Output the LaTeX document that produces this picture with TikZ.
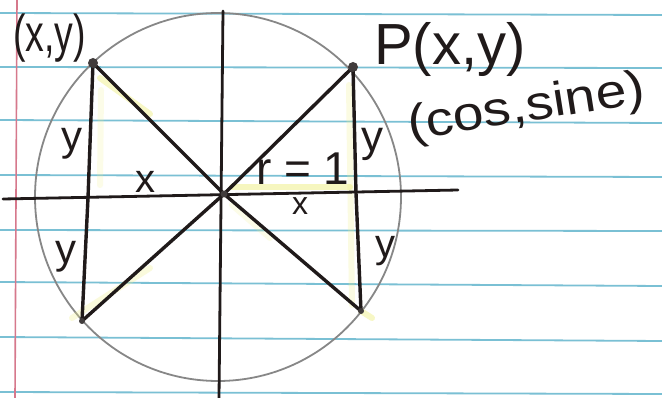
\documentclass[tikz,border=0pt]{standalone}
\usepackage{fontspec}
\setmainfont{Liberation Sans}
\definecolor{nbblue}{RGB}{122,192,212}
\definecolor{nbred}{RGB}{214,120,140}
\definecolor{circgray}{RGB}{135,135,135}
\definecolor{ink}{RGB}{32,26,26}
\definecolor{hl}{RGB}{240,240,140}
\begin{document}
\begin{tikzpicture}[x=1pt,y=-1pt,
  ruled/.style={nbblue,line width=1.8pt},
  margin/.style={nbred,line width=1.6pt},
  axis/.style={ink,line width=2.8pt,line cap=round},
  leg/.style={ink,line width=3.4pt,line cap=round,line join=round},
  hilite/.style={hl,line width=6pt,opacity=0.4,line cap=round},
  lbl/.style={ink,inner sep=0pt,anchor=base},
  dot/.style={circle,fill=ink!85,inner sep=0pt,minimum size=#1}]
\useasboundingbox[fill=white] (0,0) rectangle (662,398);
% notebook lines
\foreach \i/\yl/\yr in {1/13/15,2/67/68,3/120/123,4/175/177,5/230/231,6/282/286,7/337/341,8/392/394}{
  \coordinate (L\i) at (0,\yl);
  \coordinate (R\i) at (662,\yr);
  \draw[ruled] (L\i) -- (R\i);
}
\coordinate (mt) at (17,0);
\coordinate (mb) at (15,398);
\draw[margin] (mt) -- (mb);
% circle
\coordinate (ctr) at (218,197);
\draw[circgray,line width=1.8pt] (ctr) ellipse [x radius=183, y radius=184];
% key points
\coordinate (O) at (224,194);
\coordinate (A) at (93,63);
\coordinate (B) at (353,67);
\coordinate (C) at (82,321);
\coordinate (D) at (361,311);
\coordinate (AF) at (88,198);
\coordinate (BF) at (356,193);
% highlights
\coordinate (h1) at (100,78);
\coordinate (h2) at (150,114);
\coordinate (h3) at (101,90);
\coordinate (h4) at (100,185);
\coordinate (h5) at (232,187);
\coordinate (h6) at (350,187);
\coordinate (h7) at (349,85);
\coordinate (h8) at (352,305);
\coordinate (h9) at (72,318);
\coordinate (h10) at (150,268);
\coordinate (h11) at (372,318);
\coordinate (h12) at (232,205);
\coordinate (h13) at (270,238);
\draw[hilite,opacity=0.5] (h1) -- (h2);
\draw[hilite,opacity=0.2] (h3) -- (h4);
\draw[hilite,opacity=0.55] (h5) -- (h6);
\draw[hilite,opacity=0.25] (h7) -- (h8);
\draw[hilite,opacity=0.3] (h9) -- (h10);
\draw[hilite,opacity=0.5] (h11) -- (D);
\draw[hilite,opacity=0.2] (h12) -- (h13);
% axes
\coordinate (xl) at (3,199);
\coordinate (xr) at (458,190);
\coordinate (yt) at (223,11);
\coordinate (yb) at (219,398);
\draw[axis] (xl) -- (xr);
\draw[axis] (yt) -- (yb);
% triangles
\draw[leg] (A) -- (O) -- (D);
\draw[leg] (B) -- (O) -- (C);
\draw[leg] (A) -- (AF) -- (C);
\draw[leg] (B) -- (BF) -- (D);
\node[dot=10pt] (dA) at (A) {};
\node[dot=10pt] (dB) at (B) {};
\node[dot=6pt] (dC) at (C) {};
\node[dot=6pt] (dD) at (D) {};
\node[dot=7pt] (dO) at (O) {};
% labels
\node[lbl,anchor=base west] (tA) at (13,52) {\fontsize{52}{52}\selectfont\scalebox{0.72}[1]{(x,y)}};
\node[lbl,anchor=base west] (tP) at (374,65) {\fontsize{58}{58}\selectfont P(x,y)};
\node[lbl,anchor=base west,rotate=9] (tcs) at (410,140) {\fontsize{48}{48}\selectfont\scalebox{1.15}[1]{(cos,sine)}};
\node[lbl,anchor=base west] (tr) at (256,185) {\fontsize{46}{46}\selectfont r\;=\;1};
\node[lbl] (ty1) at (72,151) {\fontsize{42}{42}\selectfont y};
\node[lbl] (tx1) at (145,193) {\fontsize{40}{40}\selectfont x};
\node[lbl] (ty2) at (66,264) {\fontsize{42}{42}\selectfont y};
\node[lbl] (ty3) at (372,152) {\fontsize{44}{44}\selectfont y};
\node[lbl] (ty4) at (385,258) {\fontsize{40}{40}\selectfont y};
\node[lbl] (tx2) at (300,215) {\fontsize{32}{32}\selectfont x};
\end{tikzpicture}
\end{document}
